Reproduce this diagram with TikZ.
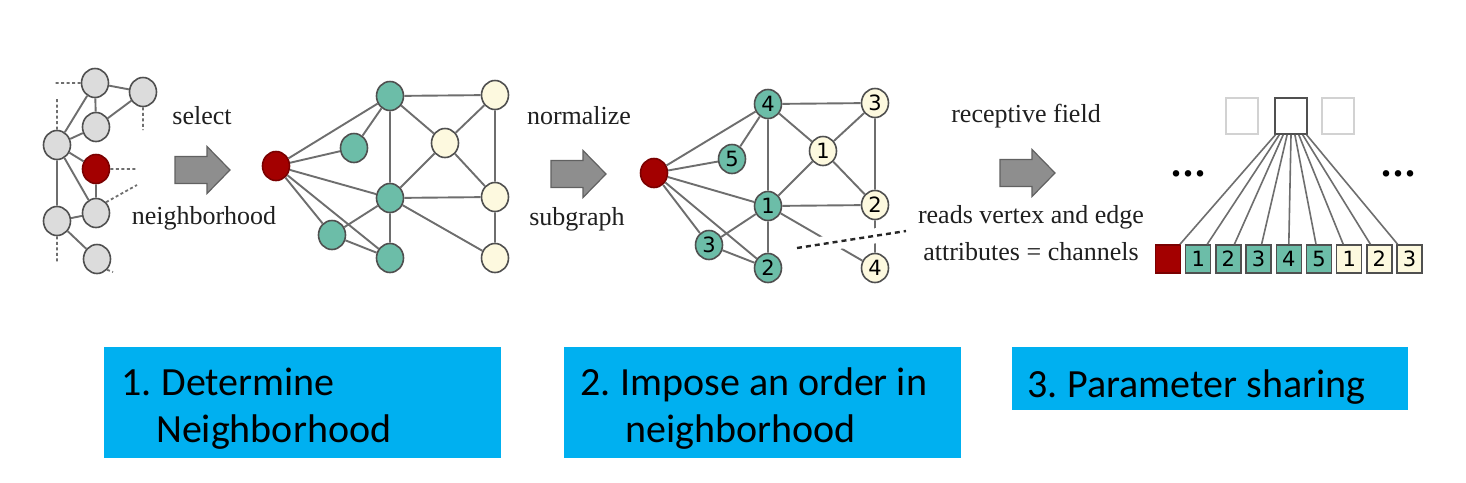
\documentclass[tikz,border=0pt]{standalone}
\usepackage{fontspec}
\setmainfont{Liberation Serif}
\newfontfamily\boxfont{Carlito}
\newfontfamily\numfont{DejaVu Sans}
\usetikzlibrary{shapes.geometric,calc}
\definecolor{gfill}{HTML}{DCDCDC}
\definecolor{redn}{HTML}{A30000}
\definecolor{tealn}{HTML}{6CBDA8}
\definecolor{creamn}{HTML}{FDF9DF}
\definecolor{edgec}{HTML}{6E6E6E}
\definecolor{bordc}{HTML}{505050}
\definecolor{bluebox}{HTML}{00B0F0}
\definecolor{arrowc}{HTML}{8E8E8E}
\definecolor{lightbord}{HTML}{D2D2D2}
\tikzset{
  vtx/.style={ellipse, draw=bordc, line width=1.6pt, minimum width=27pt, minimum height=29pt, inner sep=0pt},
  gv/.style={vtx, fill=gfill},
  rv/.style={vtx, fill=redn, draw=redn!75!black},
  tv/.style={vtx, fill=tealn, font=\numfont\fontsize{21}{22}\selectfont},
  cv/.style={vtx, fill=creamn, font=\numfont\fontsize{21}{22}\selectfont},
  edge/.style={draw=edgec, line width=1.9pt},
  dotl/.style={draw=edgec, line width=1.8pt, dash pattern=on 3pt off 2.5pt},
  lbl/.style={font=\fontsize{26}{30}\selectfont, text=black!88, inner sep=0pt},
  sqb/.style={rectangle, draw=bordc, line width=1.5pt, minimum width=25pt, minimum height=28pt, inner sep=0pt, font=\numfont\fontsize{21}{22}\selectfont},
  rsq/.style={sqb, fill=redn, draw=redn!75!black},
  tsq/.style={sqb, fill=tealn},
  csq/.style={sqb, fill=creamn},
  topb/.style={rectangle, fill=white, line width=1.6pt, minimum width=32pt, minimum height=36pt, inner sep=0pt},
  bbox/.style={rectangle, fill=bluebox, minimum width=397pt, inner sep=0pt, anchor=north west},
  btxt/.style={font=\boxfont\fontsize{40}{46}\selectfont, text=black, inner sep=0pt, anchor=base west},
  ellip/.style={font=\bfseries\fontsize{40}{40}\selectfont, inner sep=0pt, anchor=base},
  barrow/.pic={\draw[fill=arrowc, draw=bordc!90, line width=1.2pt] (0,-13.5)--(32,-13.5)--(32,-23.5)--(55,0)--(32,23.5)--(32,13.5)--(0,13.5)--cycle;}
}
\begin{document}
\begin{tikzpicture}[x=1pt,y=-1pt]
\useasboundingbox[fill=white] (0,0) rectangle (1466,482);

% ---------- graph 1 ----------
\node[gv] (g1a) at (95,83) {};
\node[gv] (g1b) at (143,92) {};
\node[gv] (g1c) at (96,127) {};
\node[gv] (g1d) at (57,145) {};
\node[rv] (g1r) at (96,169) {};
\node[gv] (g1e) at (96,213) {};
\node[gv] (g1f) at (57,221) {};
\node[gv] (g1g) at (97,259) {};
\draw[edge] (g1a)--(g1b) (g1a)--(g1c) (g1a)--(g1d) (g1c)--(g1b) (g1c)--(g1d)
  (g1d)--(g1r) (g1d)--(g1e) (g1d)--(g1f) (g1r)--(g1e) (g1f)--(g1e) (g1f)--(g1g);
\coordinate (d1) at (55,83);
\coordinate (d2) at (57,97);
\coordinate (d3) at (143,130);
\coordinate (d4) at (137,169);
\coordinate (d5) at (137,185);
\coordinate (d6) at (57,262);
\coordinate (d7) at (113,272);
\draw[dotl] (g1a.west)--(d1) (g1d.north)--(d2) (g1b.south)--(d3) (g1r.east)--(d4)
  (g1e.north east)--(d5) (g1f.south)--(d6) (g1g.south east)--(d7);

% arrow 1 + labels
\path (175,170) pic {barrow};
\node[lbl, anchor=base] (sel) at (202,124) {select};
\node[lbl, anchor=base] (nbh) at (204,224) {neighborhood};

% ---------- graph 2 ----------
\node[rv] (g2r) at (276,166) {};
\node[tv] (g2t1) at (390,96) {};
\node[tv] (g2t2) at (354,148) {};
\node[tv] (g2t3) at (390,198) {};
\node[tv] (g2t4) at (332,235) {};
\node[tv] (g2t5) at (390,258) {};
\node[cv] (g2y1) at (495,95) {};
\node[cv] (g2y2) at (445,143) {};
\node[cv] (g2y3) at (495,197) {};
\node[cv] (g2y4) at (495,258) {};
\draw[edge] (g2r)--(g2t1) (g2r)--(g2t2) (g2r)--(g2t3) (g2r)--(g2t4) (g2r)--(g2t5)
  (g2t2)--(g2t1) (g2t1)--(g2y1) (g2t1)--(g2t3) (g2t1)--(g2y2) (g2y2)--(g2y1)
  (g2y2)--(g2t3) (g2y2)--(g2y3) (g2y1)--(g2y3) (g2t3)--(g2y3) (g2t3)--(g2y4)
  (g2y3)--(g2y4) (g2t3)--(g2t4) (g2t3)--(g2t5) (g2t4)--(g2t5);

% arrow 2 + labels
\path (551,174) pic {barrow};
\node[lbl, anchor=base] (nrm) at (579,124) {normalize};
\node[lbl, anchor=base] (sub) at (577,225) {subgraph};

% ---------- graph 3 ----------
\node[rv] (g3r) at (654,173) {};
\node[tv] (g3t4) at (768,104) {4};
\node[tv] (g3t5) at (732,159) {5};
\node[tv] (g3t1) at (768,206) {1};
\node[tv] (g3t3) at (709,245) {3};
\node[tv] (g3t2) at (768,268) {2};
\node[cv] (g3y3) at (875,103) {3};
\node[cv] (g3y1) at (823,151) {1};
\node[cv] (g3y2) at (875,205) {2};
\node[cv] (g3y4) at (875,268) {4};
\draw[edge] (g3r)--(g3t4) (g3r)--(g3t5) (g3r)--(g3t1) (g3r)--(g3t3) (g3r)--(g3t2)
  (g3t5)--(g3t4) (g3t4)--(g3y3) (g3t4)--(g3t1) (g3t4)--(g3y1) (g3y1)--(g3y3)
  (g3y1)--(g3t1) (g3y1)--(g3y2) (g3y3)--(g3y2) (g3t1)--(g3y2) (g3t1)--(g3y4)
  (g3y2)--(g3y4) (g3t1)--(g3t3) (g3t1)--(g3t2) (g3t3)--(g3t2);
\coordinate (dl1) at (797,248);
\coordinate (dl2) at (906,231);
\draw[white, line width=15pt] (dl1)--(dl2);
\draw[black!85, line width=2.4pt, dash pattern=on 5pt off 4pt] (dl1)--(dl2);

% arrow 3 + labels
\path (1000,173) pic {barrow};
\node[lbl, anchor=base] (rf) at (1026,122) {receptive field};
\node[lbl, anchor=base] (rv1) at (1031,223) {reads vertex and edge};
\node[lbl, anchor=base] (rv2) at (1031,260) {attributes = channels};

% ---------- receptive field ----------
\node[topb, draw=lightbord] (tl) at (1242,116) {};
\node[topb, draw=bordc] (top) at (1291,116) {};
\node[topb, draw=lightbord] (tr) at (1338,116) {};
\foreach \i/\lab/\sty in {0//rsq,1/1/tsq,2/2/tsq,3/3/tsq,4/4/tsq,5/5/tsq,6/1/csq,7/2/csq,8/3/csq}{
  \node[\sty] (b\i) at ({1168+30.2*\i},259) {\lab};
}
\foreach \i in {0,...,8}{
  \draw[edge, line width=1.6pt] ($(b\i.north)+({-3*(\i-4)},0)$) -- ($(top.south)+({3.9*(\i-4)},0)$);
}
\node[ellip] (dotsl) at (1188,176) {.\hspace{2pt}.\hspace{2pt}.};
\node[ellip] (dotsr) at (1398,176) {.\hspace{2pt}.\hspace{2pt}.};

% ---------- blue boxes ----------
\node[bbox, minimum height=111pt] (box1) at (104,347) {};
\node[bbox, minimum height=111pt] (box2) at (564,347) {};
\node[bbox, minimum height=63pt, minimum width=396pt] (box3) at (1012,347) {};
\node[btxt] (t1a) at (121,395) {1.\hspace{-2pt} Determine};
\node[btxt] (t1b) at (156,442) {Neighborhood};
\node[btxt] (t2a) at (580,395) {2.\hspace{-2pt} Impose an order in};
\node[btxt] (t2b) at (625,442) {neighborhood};
\node[btxt] (t3a) at (1027,397) {3.\hspace{-2pt} Parameter sharing};
\end{tikzpicture}
\end{document}
